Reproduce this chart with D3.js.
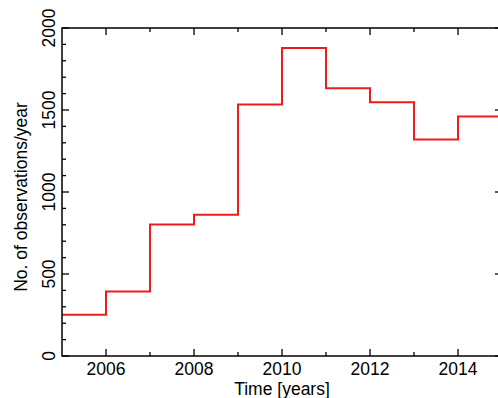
<!DOCTYPE html>
<html>
<head>
<meta charset="utf-8">
<script src="https://cdn.jsdelivr.net/npm/d3@7"></script>
<style>
  body { margin: 0; background: #fff; }
  svg { display: block; font-family: "Liberation Sans", Arial, sans-serif; }
</style>
</head>
<body>
<svg id="chart"></svg>
<script>
// Data: observations per year (step starts at each year)
const years = [2005, 2006, 2007, 2008, 2009, 2010, 2011, 2012, 2013, 2014];
const counts = [251, 393, 802, 862, 1533, 1878, 1632, 1547, 1320, 1460];
const xTicks = [2006, 2008, 2010, 2012, 2014];
const yTicks = [0, 500, 1000, 1500, 2000];

const width = 498, height = 398;
const margin = { left: 62, top: 28, right: -4, bottom: 42 };
const fontSize = 17.5;

const svg = d3.select("#chart").attr("width", width).attr("height", height);

const x = d3.scaleLinear().domain([2005, 2015]).range([margin.left, width - margin.right]);
const y = d3.scaleLinear().domain([0, 2000]).range([height - margin.bottom, margin.top]);

const x0 = x.range()[0], x1 = x.range()[1];
const y0 = y.range()[0], y1 = y.range()[1];

// step line
const pts = years.map((yr, i) => [yr, counts[i]]);
pts.push([2015, counts[counts.length - 1]]);
const line = d3.line().x(d => x(d[0])).y(d => y(d[1])).curve(d3.curveStepAfter);

svg.append("path")
   .datum(pts)
   .attr("d", line)
   .attr("fill", "none")
   .attr("stroke", "#ec1c1c")
   .attr("stroke-width", 2);

// frame
svg.append("rect")
   .attr("x", x0).attr("y", y1)
   .attr("width", x1 - x0).attr("height", y0 - y1)
   .attr("fill", "none").attr("stroke", "#000").attr("stroke-width", 1.5);

// ticks (major every 2 yrs / 500, minor every odd yr / 100)
const xMinor = [2007, 2009, 2011, 2013];
const yMinor = d3.range(100, 2000, 100).filter(v => v % 500 !== 0);
const tk = svg.append("g").attr("stroke", "#000").attr("stroke-width", 1.3);
xTicks.forEach(v => {
   tk.append("line").attr("x1", x(v)).attr("x2", x(v)).attr("y1", y0).attr("y2", y0 - 7);
   tk.append("line").attr("x1", x(v)).attr("x2", x(v)).attr("y1", y1).attr("y2", y1 + 7);
});
xMinor.forEach(v => {
   tk.append("line").attr("x1", x(v)).attr("x2", x(v)).attr("y1", y0).attr("y2", y0 - 4);
   tk.append("line").attr("x1", x(v)).attr("x2", x(v)).attr("y1", y1).attr("y2", y1 + 4);
});
yTicks.forEach(v => {
   tk.append("line").attr("x1", x0).attr("x2", x0 + 7).attr("y1", y(v)).attr("y2", y(v));
   tk.append("line").attr("x1", x1).attr("x2", x1 - 7).attr("y1", y(v)).attr("y2", y(v));
});
yMinor.forEach(v => {
   tk.append("line").attr("x1", x0).attr("x2", x0 + 4).attr("y1", y(v)).attr("y2", y(v));
   tk.append("line").attr("x1", x1).attr("x2", x1 - 4).attr("y1", y(v)).attr("y2", y(v));
});

// tick labels
svg.append("g").selectAll("text").data(xTicks).join("text")
   .attr("x", d => x(d)).attr("y", y0 + 19)
   .attr("text-anchor", "middle").attr("font-size", fontSize)
   .text(d => d);

svg.append("g").selectAll("text").data(yTicks).join("text")
   .attr("transform", d => `translate(${x0 - 7},${y(d)}) rotate(-90)`)
   .attr("text-anchor", "middle").attr("font-size", fontSize)
   .text(d => d);

// axis titles
svg.append("text")
   .attr("x", 282).attr("y", height - 3)
   .attr("text-anchor", "middle").attr("font-size", fontSize)
   .text("Time [years]");

svg.append("text")
   .attr("transform", `translate(26.5,197) rotate(-90)`)
   .attr("text-anchor", "middle").attr("font-size", fontSize)
   .text("No. of observations/year");
</script>
</body>
</html>
